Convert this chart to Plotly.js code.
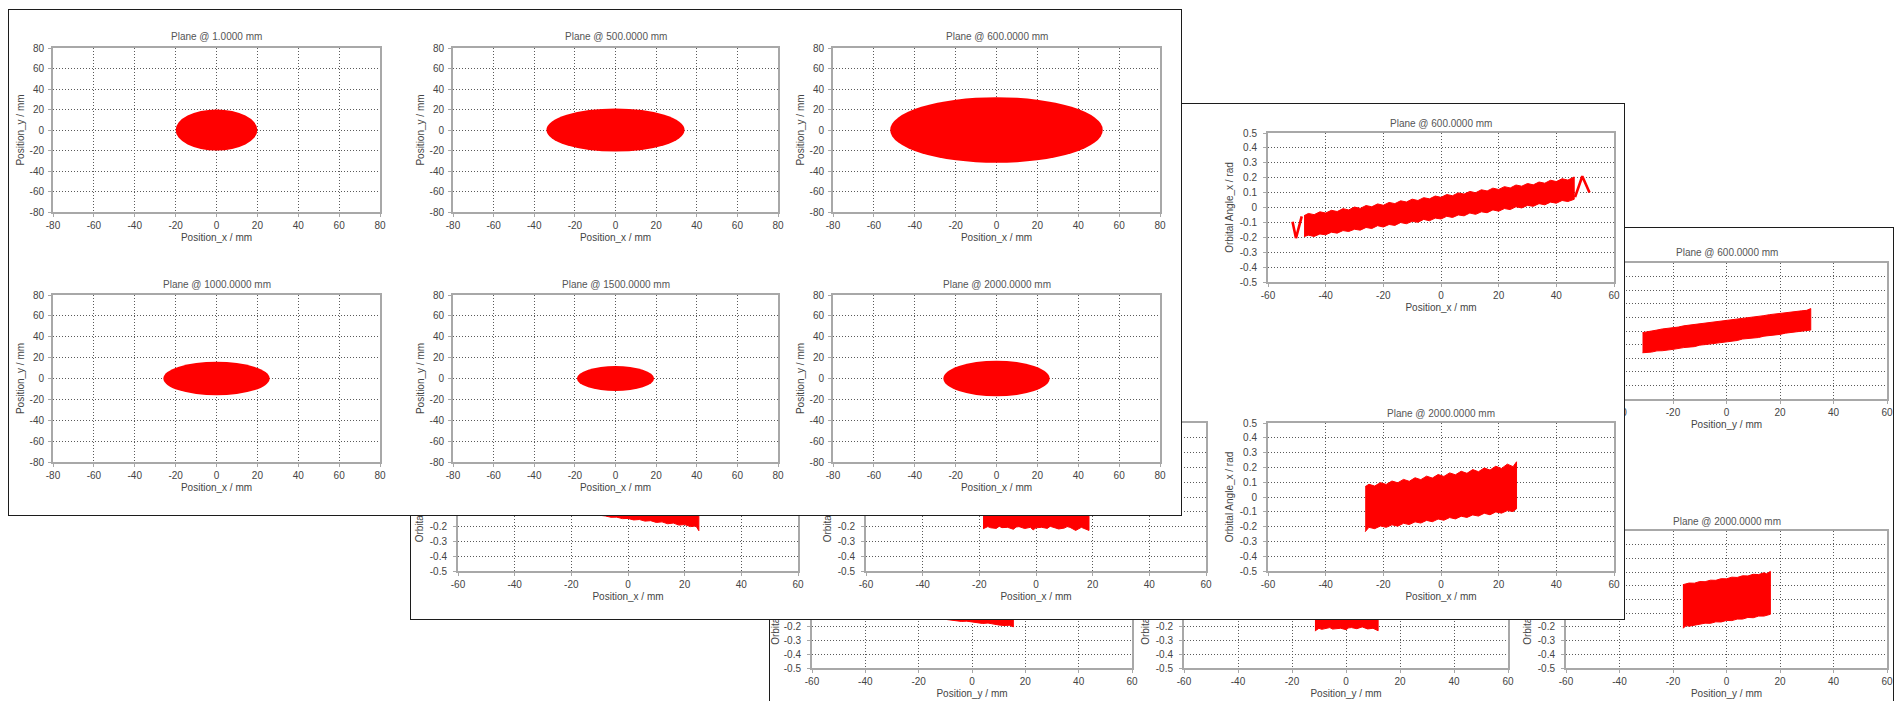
<!DOCTYPE html>
<html>
<head>
<meta charset="utf-8">
<script src="https://cdn.plot.ly/plotly-3.0.1.min.js"></script>
<style>
  html, body { margin: 0; padding: 0; background: #fff; width: 1898px; height: 701px; overflow: hidden; }
  body { position: relative; }
  .win { position: absolute; background: #fff; border: 1px solid #1c1c1c; box-sizing: border-box; overflow: hidden; }
</style>
</head>
<body>
<div id="winC" class="win"><div id="plotC"></div></div>
<div id="winB" class="win"><div id="plotB"></div></div>
<div id="winA" class="win"><div id="plotA"></div></div>
<script>
// ---------- data ----------
const planes = ["1.0000", "500.0000", "600.0000", "1000.0000", "1500.0000", "2000.0000"];

// beam spot half widths / half heights per plane (mm)
const spotHalfX = [20, 34, 52, 26, 19, 26];
const spotHalfY = [20, 21, 32, 16, 12, 17];

// tick values and labels
const posTicks = [-80, -60, -40, -20, 0, 20, 40, 60, 80];
const posTickText = ["-80", "-60", "-40", "-20", "0", "20", "40", "60", "80"];
const phsTicksX = [-60, -40, -20, 0, 20, 40, 60];
const phsTickTextX = ["-60", "-40", "-20", "0", "20", "40", "60"];
const angTicks = [-0.5, -0.4, -0.3, -0.2, -0.1, 0, 0.1, 0.2, 0.3, 0.4, 0.5];
const angTickText = ["-0.5", "-0.4", "-0.3", "-0.2", "-0.1", "0", "0.1", "0.2", "0.3", "0.4", "0.5"];

// horizontal phase space (Position_x vs Orbital Angle_x): band outlines
const phx600LoX = [-47.5, -46, -44, -42, -40, -38, -36, -34, -32, -30, -28, -26, -24, -22, -20, -18, -16, -14, -12, -10, -8, -6, -4, -2, 0, 2, 4, 6, 8, 10, 12, 14, 16, 18, 20, 22, 24, 26, 28, 30, 32, 34, 36, 38, 40, 42, 44, 46.2];
const phx600LoY = [-0.195, -0.186, -0.194, -0.178, -0.183, -0.166, -0.172, -0.155, -0.161, -0.146, -0.152, -0.134, -0.141, -0.122, -0.131, -0.114, -0.120, -0.101, -0.109, -0.093, -0.099, -0.080, -0.089, -0.071, -0.077, -0.059, -0.067, -0.050, -0.056, -0.037, -0.046, -0.029, -0.035, -0.016, -0.025, -0.007, -0.014, 0.005, -0.003, 0.014, 0.008, 0.026, 0.018, 0.036, 0.029, 0.047, 0.040, 0.055];
const phx600UpX = [46.2, 44, 42, 40, 38, 36, 34, 32, 30, 28, 26, 24, 22, 20, 18, 16, 14, 12, 10, 8, 6, 4, 2, 0, -2, -4, -6, -8, -10, -12, -14, -16, -18, -20, -22, -24, -26, -28, -30, -32, -34, -36, -38, -40, -42, -44, -46, -47.5];
const phx600UpY = [0.205, 0.184, 0.193, 0.174, 0.183, 0.163, 0.171, 0.152, 0.161, 0.143, 0.151, 0.131, 0.140, 0.121, 0.130, 0.111, 0.119, 0.099, 0.108, 0.090, 0.098, 0.079, 0.087, 0.068, 0.077, 0.058, 0.066, 0.047, 0.056, 0.037, 0.045, 0.026, 0.034, 0.015, 0.024, 0.005, 0.013, -0.006, 0.003, -0.016, -0.008, -0.027, -0.019, -0.037, -0.029, -0.048, -0.040, -0.055];
const phx600TailLX = [-51.5, -50.3, -48.3];
const phx600TailLY = [-0.095, -0.205, -0.06];
const phx600TailRX = [46.5, 49, 51.5];
const phx600TailRY = [0.07, 0.21, 0.1];

const phx1000LoX = [-25, -20, -15, -10, -8, -6, -4, -2, 0, 2, 4, 6, 8, 10, 12, 14, 16, 18, 20, 22, 24, 25];
const phx1000LoY = [-0.09, -0.1, -0.11, -0.125, -0.128, -0.137, -0.136, -0.146, -0.145, -0.155, -0.152, -0.163, -0.16, -0.172, -0.168, -0.181, -0.176, -0.19, -0.186, -0.2, -0.196, -0.228];
const phx1000UpX = [25, 15, 5, -5, -15, -25];
const phx1000UpY = [0.08, 0.11, 0.14, 0.16, 0.18, 0.2];

const phx1500LoX = [-18.7, -17, -16, -14, -13, -12, -10, -8, -7, -6, -4, -2, -1, 0, 2, 4, 5, 6, 8, 10, 11, 12, 14, 16, 17, 18.7];
const phx1500LoY = [-0.215, -0.2, -0.208, -0.212, -0.198, -0.207, -0.205, -0.218, -0.203, -0.2, -0.213, -0.205, -0.222, -0.208, -0.205, -0.212, -0.198, -0.204, -0.216, -0.21, -0.2, -0.205, -0.226, -0.205, -0.212, -0.226];
const phx1500UpX = [18.7, 10, 0, -10, -18.7];
const phx1500UpY = [0.21, 0.2, 0.21, 0.2, 0.21];

const phx2000LoX = [-26.3, -25, -23, -21, -19, -17, -15, -13, -11, -9, -7, -5, -3, -1, 1, 3, 5, 7, 9, 11, 13, 15, 17, 19, 21, 23, 25, 26.2];
const phx2000LoY = [-0.235, -0.205, -0.214, -0.196, -0.205, -0.188, -0.197, -0.178, -0.186, -0.168, -0.176, -0.158, -0.167, -0.149, -0.157, -0.139, -0.148, -0.130, -0.138, -0.121, -0.129, -0.110, -0.120, -0.101, -0.109, -0.092, -0.098, -0.080];
const phx2000UpX = [26.2, 25, 23, 21, 19, 17, 15, 13, 11, 9, 7, 5, 3, 1, -1, -3, -5, -7, -9, -11, -13, -15, -17, -19, -21, -23, -25, -26.3];
const phx2000UpY = [0.238, 0.205, 0.222, 0.193, 0.208, 0.182, 0.196, 0.171, 0.185, 0.160, 0.174, 0.150, 0.163, 0.139, 0.152, 0.128, 0.141, 0.117, 0.130, 0.106, 0.119, 0.096, 0.108, 0.085, 0.097, 0.074, 0.086, 0.070];

// vertical phase space (Position_y vs Orbital Angle_y): band outlines
const phy600LoX = [-31.4, -28, -26, -24, -20, -18, -16, -12, -10, -8, -4, -2, 0, 4, 6, 8, 12, 14, 16, 20, 22, 24, 28, 31.5];
const phy600LoY = [-0.16, -0.155, -0.146, -0.145, -0.135, -0.126, -0.122, -0.115, -0.104, -0.1, -0.09, -0.081, -0.078, -0.07, -0.059, -0.055, -0.048, -0.038, -0.035, -0.025, -0.016, -0.012, -0.005, 0.007];
const phy600UpX = [31.5, 30, 28, 24, 22, 20, 16, 14, 12, 8, 6, 4, 0, -2, -4, -8, -10, -12, -16, -18, -20, -24, -26, -28, -31.4];
const phy600UpY = [0.165, 0.152, 0.148, 0.14, 0.133, 0.13, 0.12, 0.113, 0.108, 0.1, 0.092, 0.088, 0.08, 0.071, 0.066, 0.058, 0.05, 0.045, 0.038, 0.029, 0.025, 0.015, 0.007, 0.0, -0.012];

const phy1000LoX = [-16, -12, -10, -8, -6, -4, -2, 0, 2, 4, 6, 8, 10, 12, 14, 15.5];
const phy1000LoY = [-0.13, -0.14, -0.141, -0.15, -0.152, -0.16, -0.158, -0.165, -0.17, -0.175, -0.172, -0.18, -0.186, -0.19, -0.188, -0.2];
const phy1000UpX = [15.5, 0, -16];
const phy1000UpY = [0.1, 0.13, 0.17];

const phy1500LoX = [-11.5, -10, -9, -8, -6, -5, -4, -2, 0, 1, 2, 4, 6, 7, 8, 10, 11.9];
const phy1500LoY = [-0.23, -0.21, -0.218, -0.212, -0.205, -0.216, -0.213, -0.21, -0.22, -0.207, -0.205, -0.213, -0.2, -0.209, -0.215, -0.21, -0.228];
const phy1500UpX = [11.9, 0, -11.5];
const phy1500UpY = [0.2, 0.21, 0.2];

const phy2000LoX = [-16.3, -15, -14, -12, -10, -8, -6, -4, -2, 0, 2, 4, 6, 8, 10, 12, 14, 16.4];
const phy2000LoY = [-0.21, -0.19, -0.195, -0.186, -0.182, -0.173, -0.174, -0.163, -0.164, -0.153, -0.154, -0.143, -0.143, -0.131, -0.133, -0.121, -0.121, -0.108];
const phy2000UpX = [16.4, 15, 14, 12, 10, 8, 6, 4, 2, 0, -2, -4, -6, -8, -10, -12, -14, -16.3];
const phy2000UpY = [0.205, 0.188, 0.195, 0.182, 0.184, 0.172, 0.173, 0.161, 0.163, 0.151, 0.152, 0.14, 0.141, 0.13, 0.131, 0.119, 0.12, 0.108];

// ---------- page layout (window frames and plot areas in page pixels) ----------
const winA = { left: 8, top: 9, width: 1174, height: 507 };
const winB = { left: 410, top: 103, width: 1215, height: 517 };
const winC = { left: 769, top: 227, width: 1125, height: 517 };

const rectsA = [[53, 380, 48, 212], [453, 778, 48, 212], [833, 1160, 48, 212],
                [53, 380, 295, 462], [453, 778, 295, 462], [833, 1160, 295, 462]];
const rectsB = [[458, 798, 133, 282], [866, 1206, 133, 282], [1268, 1614, 133, 282],
                [458, 798, 423, 571], [866, 1206, 423, 571], [1268, 1614, 423, 571]];
const rectsC = [[812, 1132, 263, 399], [1184, 1508, 263, 399], [1566, 1887, 263, 399],
                [812, 1132, 531, 668], [1184, 1508, 531, 668], [1566, 1887, 531, 668]];

const FONT = "Liberation Sans, Arial, sans-serif";
const RED = "#ff0000";

function axisStyle(extra) {
  return Object.assign({
    showgrid: true, gridcolor: "#5a5a5a", gridwidth: 1, griddash: "1px,2px",
    showline: true, mirror: true, linecolor: "#a8a8a8", linewidth: 2,
    ticks: "outside", ticklen: 3, tickcolor: "#a8a8a8", tickwidth: 1,
    zeroline: false, fixedrange: true, automargin: false,
    tickfont: { family: FONT, size: 10, color: "#444" }
  }, extra);
}

function band(n, loX, loY, upX, upY) {
  return {
    type: "scatter", mode: "lines", fill: "toself",
    x: loX.concat(upX), y: loY.concat(upY),
    fillcolor: RED, line: { color: RED, width: 1 },
    xaxis: "x" + (n === 1 ? "" : n), yaxis: "y" + (n === 1 ? "" : n),
    hoverinfo: "skip"
  };
}

function tail(n, xs, ys) {
  return {
    type: "scatter", mode: "lines", x: xs, y: ys,
    line: { color: RED, width: 2.6 },
    xaxis: "x" + (n === 1 ? "" : n), yaxis: "y" + (n === 1 ? "" : n),
    hoverinfo: "skip"
  };
}

function buildWindow(divId, wrapId, win, rects, cfg, traces, shapes) {
  const wrap = document.getElementById(wrapId);
  wrap.style.left = win.left + "px";
  wrap.style.top = win.top + "px";
  wrap.style.width = win.width + "px";
  wrap.style.height = win.height + "px";
  const W = win.width - 2, H = win.height - 2;
  const ox = win.left + 1, oy = win.top + 1;

  const layout = {
    width: W, height: H,
    margin: { l: 0, r: 0, t: 0, b: 0, pad: 0 },
    paper_bgcolor: "#fff", plot_bgcolor: "#fff",
    showlegend: false,
    font: { family: FONT, size: 10, color: "#444" },
    annotations: [], shapes: shapes || []
  };

  rects.forEach((r, i) => {
    const n = i + 1, s = n === 1 ? "" : String(n);
    const xd = [(r[0] - ox) / W, (r[1] - ox) / W];
    const yd = [1 - (r[3] - oy) / H, 1 - (r[2] - oy) / H];
    layout["xaxis" + s] = axisStyle({
      domain: xd, anchor: "y" + s, range: cfg.xRange,
      tickmode: "array", tickvals: cfg.xTicks, ticktext: cfg.xTickText,
      title: { text: cfg.xTitle, standoff: cfg.xStandoff, font: { family: FONT, size: 10, color: "#444" } }
    });
    layout["yaxis" + s] = axisStyle({
      domain: yd, anchor: "x" + s, range: cfg.yRange,
      tickmode: "array", tickvals: cfg.yTicks, ticktext: cfg.yTickText,
      ticklabelstandoff: cfg.yLabelGap,
      title: { text: cfg.yTitle, standoff: cfg.yStandoff, font: { family: FONT, size: 10, color: "#444" } }
    });
    layout.annotations.push({
      text: "Plane @ " + planes[i] + " mm",
      xref: "x" + s + " domain", yref: "y" + s + " domain",
      x: 0.5, y: 1, xanchor: "center", yanchor: "middle", yshift: cfg.titleShift,
      showarrow: false, font: { family: FONT, size: 10, color: "#555" }
    });
  });

  return Plotly.newPlot(divId, traces, layout, { displayModeBar: false, staticPlot: true });
}

// ---------- window A: beam spots in the x-y plane ----------
const spotShapes = planes.map((p, i) => {
  const s = i === 0 ? "" : String(i + 1);
  return {
    type: "circle", xref: "x" + s, yref: "y" + s,
    x0: -spotHalfX[i], x1: spotHalfX[i], y0: -spotHalfY[i], y1: spotHalfY[i],
    fillcolor: RED, line: { width: 0 }, layer: "above"
  };
});

const pA = buildWindow("plotA", "winA", winA, rectsA, {
  xRange: [-80, 80], yRange: [-80, 80],
  xTicks: posTicks, xTickText: posTickText, yTicks: posTicks, yTickText: posTickText,
  xTitle: "Position_x / mm", yTitle: "Position_y / mm",
  xStandoff: 4, yStandoff: 3, yLabelGap: 2, titleShift: 11
}, [], spotShapes);

// ---------- window B: horizontal phase space ----------
const pB = buildWindow("plotB", "winB", winB, rectsB, {
  xRange: [-60, 60], yRange: [-0.5, 0.5],
  xTicks: phsTicksX, xTickText: phsTickTextX, yTicks: angTicks, yTickText: angTickText,
  xTitle: "Position_x / mm", yTitle: "Orbital Angle_x / rad",
  xStandoff: 4, yStandoff: 4, yLabelGap: 4, titleShift: 10
}, [
  band(3, phx600LoX, phx600LoY, phx600UpX, phx600UpY),
  tail(3, phx600TailLX, phx600TailLY),
  tail(3, phx600TailRX, phx600TailRY),
  band(4, phx1000LoX, phx1000LoY, phx1000UpX, phx1000UpY),
  band(5, phx1500LoX, phx1500LoY, phx1500UpX, phx1500UpY),
  band(6, phx2000LoX, phx2000LoY, phx2000UpX, phx2000UpY)
]);

// ---------- window C: vertical phase space ----------
const pC = buildWindow("plotC", "winC", winC, rectsC, {
  xRange: [-60, 60], yRange: [-0.5, 0.5],
  xTicks: phsTicksX, xTickText: phsTickTextX, yTicks: angTicks, yTickText: angTickText,
  xTitle: "Position_y / mm", yTitle: "Orbital Angle_y / rad",
  xStandoff: 4, yStandoff: 4, yLabelGap: 4, titleShift: 10
}, [
  band(3, phy600LoX, phy600LoY, phy600UpX, phy600UpY),
  band(4, phy1000LoX, phy1000LoY, phy1000UpX, phy1000UpY),
  band(5, phy1500LoX, phy1500LoY, phy1500UpX, phy1500UpY),
  band(6, phy2000LoX, phy2000LoY, phy2000UpX, phy2000UpY)
]);

// Labels of a back window that sit entirely under a window stacked above it
// can never be seen; drop them so they do not collide with the front labels.
function inside(b, w) {
  return b.left >= w.left && b.right <= w.left + w.width &&
         b.top >= w.top && b.bottom <= w.top + w.height;
}
Promise.all([pA, pB, pC]).then(() => {
  [["plotB", [winA]], ["plotC", [winA, winB]]].forEach(([id, covers]) => {
    document.querySelectorAll("#" + id + " text").forEach(t => {
      const b = t.getBoundingClientRect();
      if (b.width === 0 && b.height === 0) return;
      if (covers.some(w => inside(b, w))) t.remove();
    });
  });
});
</script>
</body>
</html>
